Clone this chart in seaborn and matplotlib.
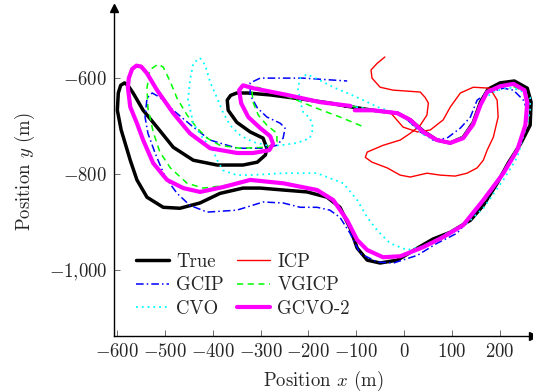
import matplotlib
matplotlib.use("Agg")
import matplotlib.pyplot as plt
from matplotlib.ticker import FuncFormatter
import seaborn as sns
import pandas as pd

# trajectories in metres (x, y)
true_x = [-123, -65, -14, 13, 40, 69, 97, 124, 145, 160, 176, 201, 231, 258, 266, 264, 245, 218, 195,
          166, 139, 97, 61, 28, -14, -50, -77, -98, -113, -134, -161, -203, -253, -301, -337, -385,
          -427, -469, -504, -538, -559, -573, -592, -600, -598, -593, -585, -578, -567, -546, -517, -483,
          -441, -391, -337, -307, -290, -287, -295, -322, -350, -368, -370, -363, -350, -328, -280, -211, -155, -123]
true_y = [-658, -667, -673, -687, -710, -729, -735, -723, -692, -650, -623, -610, -606, -621, -650,
          -698, -735, -777, -819, -865, -896, -921, -935, -954, -979, -985, -979, -954, -912, -869,
          -848, -837, -833, -829, -829, -840, -860, -871, -869, -848, -812, -771, -708, -667, -631,
          -615, -610, -615, -631, -667, -702, -744, -771, -781, -781, -775, -760, -746, -725, -712, -692, -667,
          -646, -636, -631, -631, -635, -644, -652, -658]

icp_x = [-67, -29, -2, 28, 55, 82, 97, 118, 145, 180, 195, 197, 187, 174, 166, 153, 132, 107, 76, 48,
         13, -8, -35, -67, -81, -77, -44, -8, 13, 34, 48, 51, 44, 34, -23, -50, -67, -69, -56, -40]
icp_y = [-665, -671, -702, -712, -708, -687, -660, -631, -619, -621, -646, -681, -723, -750, -771,
         -787, -798, -804, -802, -798, -806, -802, -787, -775, -765, -754, -740, -729, -715, -698,
         -677, -652, -640, -629, -625, -619, -600, -583, -569, -556]

gcip_x = [-112, -65, -14, 7, 34, 61, 90, 118, 139, 153, 174, 208, 229, 250, 258, 254, 243, 229, 195,
          153, 111, 69, 28, -22, -56, -92, -113, -134, -155, -182, -217, -253, -295, -350, -412, -448,
          -475, -500, -521, -536, -542, -538, -527, -511, -483, -441, -406, -349, -295, -266, -253,
          -249, -259, -287, -307, -322, -322, -301, -211, -119]
gcip_y = [-658, -667, -671, -687, -712, -729, -725, -704, -681, -646, -631, -621, -625, -646, -667,
          -694, -729, -765, -819, -875, -923, -944, -969, -985, -983, -965, -923, -890, -875, -869,
          -869, -860, -858, -875, -879, -865, -840, -806, -756, -715, -681, -642, -631, -640, -667,
          -702, -729, -746, -746, -740, -725, -704, -694, -681, -662, -635, -610, -600, -600, -606]

vgicp_x = [-112, -65, -14, 13, 40, 69, 97, 124, 145, 160, 176, 201, 229, 252, 260, 254, 239, 212, 170,
           128, 86, 44, -4, -44, -77, -98, -119, -148, -182, -253, -322, -370, -420, -454, -489, -511,
           -525, -536, -538, -532, -515, -504, -489, -475, -454, -433, -412, -385, -343, -287, -266,
           -266, -287, -305, -316, -318, -307, -259, -224, -190, -161, -134, -88]
vgicp_y = [-658, -667, -673, -690, -715, -731, -735, -721, -690, -652, -625, -615, -617, -629, -656,
           -698, -740, -792, -854, -900, -927, -948, -969, -973, -958, -937, -896, -854, -833, -819,
           -812, -823, -829, -819, -787, -754, -712, -662, -621, -583, -571, -577, -608, -642, -677,
           -704, -725, -740, -746, -744, -733, -715, -698, -677, -650, -629, -619, -633, -646, -660,
           -671, -681, -700]

cvo_x = [-112, -65, -14, 13, 40, 69, 97, 124, 145, 164, 187, 216, 243, 264, 264, 258, 237, 208, 166,
         132, 90, 48, 7, -29, -56, -77, -98, -127, -182, -253, -322, -350, -379, -391, -400, -421,
         -441, -452, -448, -441, -427, -416, -406, -391, -379, -364, -343, -316, -287, -259, -224,
         -197, -190, -197, -211, -217, -222, -217, -203, -190, -169, -148, -119, -85, -56, -29]
cvo_y = [-658, -667, -673, -692, -717, -731, -735, -723, -692, -646, -629, -619, -625, -640, -667,
         -694, -765, -812, -871, -902, -923, -948, -958, -944, -917, -890, -854, -819, -798, -798,
         -802, -802, -792, -771, -750, -725, -694, -646, -604, -569, -558, -573, -608, -642, -671,
         -698, -719, -733, -740, -740, -735, -725, -704, -683, -671, -650, -621, -600, -592, -598,
         -608, -619, -631, -646, -660, -669]

gcvo_x = [-112, -176, -245, -316, -337, -345, -341, -326, -301, -280, -274, -282, -316, -349, -406,
          -448, -483, -517, -538, -550, -560, -569, -576, -578, -573, -559, -546, -525, -496, -462, -427, -379,
          -322, -253, -182, -148, -119, -98, -77, -44, -8, 40, 82, 124, 166, 208, 237, 254, 258, 252,
          229, 201, 174, 160, 145, 124, 97, 69, 40, 13, -14, -65, -103]
gcvo_y = [-658, -650, -635, -621, -615, -625, -652, -681, -704, -721, -737, -750, -756, -756, -746,
          -715, -673, -625, -590, -576, -574, -581, -600, -619, -660, -694, -729, -777, -812, -829, -837, -827,
          -812, -819, -833, -854, -896, -937, -958, -973, -971, -952, -931, -906, -854, -798, -750,
          -698, -652, -625, -612, -617, -629, -656, -696, -725, -735, -729, -712, -687, -673, -667,
          -667]

x_ticks = [-600, -500, -400, -300, -200, -100, 0, 100, 200]
y_ticks = [-1000, -800, -600]

sns.set_theme(style="white")
plt.rcParams["font.family"] = ["serif"]
plt.rcParams["font.serif"] = ["cmr10", "DejaVu Serif"]
plt.rcParams["mathtext.fontset"] = "cm"
plt.rcParams["axes.formatter.use_mathtext"] = True

FS = 13.5

fig = plt.figure(figsize=(5.33, 3.92), dpi=100)
ax = fig.add_axes([114 / 533, 56 / 392, 419 / 533, 328 / 392])

series = [
    ("True", true_x, true_y, dict(color="black", linewidth=2.5, linestyle="-")),
    ("ICP", icp_x, icp_y, dict(color="red", linewidth=1.0, linestyle="-")),
    ("GCIP", gcip_x, gcip_y, dict(color="blue", linewidth=1.1, linestyle=(0, (5, 2, 1, 2)))),
    ("VGICP", vgicp_x, vgicp_y, dict(color="#00ff00", linewidth=1.1, linestyle=(0, (4, 3)))),
    ("CVO", cvo_x, cvo_y, dict(color="cyan", linewidth=1.3, linestyle=(0, (1, 2.2)))),
    ("GCVO-2", gcvo_x, gcvo_y, dict(color="magenta", linewidth=3.0, linestyle="-")),
]

for name, xs, ys, style in series:
    df = pd.DataFrame({"x": xs, "y": ys})
    sns.lineplot(data=df, x="x", y="y", sort=False, estimator=None, ax=ax, label=name,
                 solid_joinstyle="round", solid_capstyle="round", **style)

ax.set_xlim(-607, 270)
ax.set_ylim(-1137, -454)
ax.set_xticks(x_ticks)
ax.set_yticks(y_ticks)

def fmt(v, pos):
    v = int(round(v))
    s = f"{abs(v):,}".replace(",", "{,}")
    return r"$-" + s + "$" if v < 0 else r"$" + s + "$"

ax.xaxis.set_major_formatter(FuncFormatter(fmt))
ax.yaxis.set_major_formatter(FuncFormatter(fmt))
ax.tick_params(axis="both", direction="in", length=4, width=0.6, color="#555555",
               labelsize=FS, bottom=True, left=True, top=False, right=False, pad=5)

for side in ["top", "right"]:
    ax.spines[side].set_visible(False)
for side in ["left", "bottom"]:
    ax.spines[side].set_color("black")
    ax.spines[side].set_linewidth(1.0)

# axis arrow heads
ax.plot([1], [0], marker=">", color="black", markersize=6, transform=ax.transAxes, clip_on=False)
ax.plot([0], [1], marker="^", color="black", markersize=6, transform=ax.transAxes, clip_on=False)

ax.set_xlabel(r"Position $x$ (m)", fontsize=FS, labelpad=6)
ax.set_ylabel(r"Position $y$ (m)", fontsize=FS, labelpad=8)

handles, labels = ax.get_legend_handles_labels()
order = [0, 2, 4, 1, 3, 5]
ax.legend([handles[i] for i in order], [labels[i] for i in order], ncol=2, frameon=False,
          loc="lower left", bbox_to_anchor=(0.052, 0.056), borderaxespad=0, borderpad=0,
          fontsize=FS, handlelength=1.75, columnspacing=0.7, labelspacing=0.3, handletextpad=0.4)

fig.savefig("out.png", dpi=100)
